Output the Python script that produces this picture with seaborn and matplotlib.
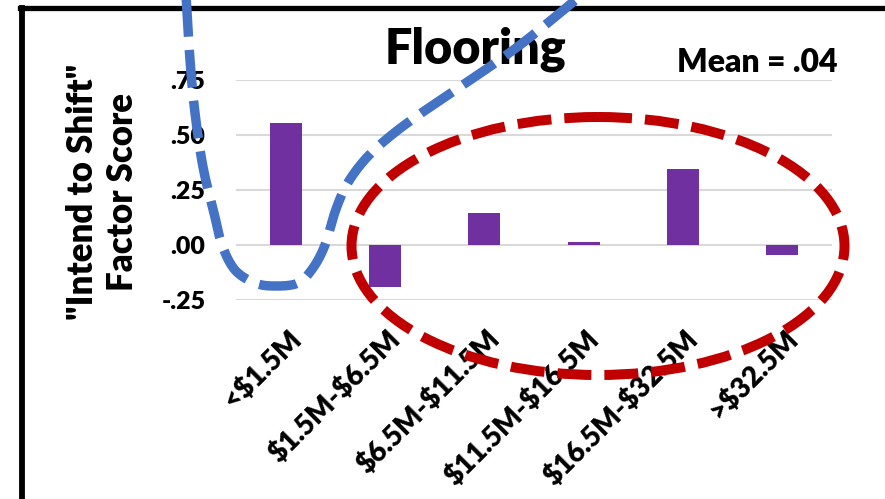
import numpy as np
import pandas as pd
import matplotlib
matplotlib.use("Agg")
import matplotlib.pyplot as plt
import matplotlib.transforms as mtransforms
from matplotlib.patches import Ellipse
import seaborn as sns

# ---------------- data ----------------
categories = ["<$1.5M", "$1.5M-$6.5M", "$6.5M-$11.5M", "$11.5M-$16.5M", "$16.5M-$32.5M", ">$32.5M"]
scores = [0.555, -0.19, 0.147, 0.012, 0.344, -0.047]
ytick_values = [-0.25, 0.0, 0.25, 0.50, 0.75]
ytick_labels = ["-.25", ".00", ".25", ".50", ".75"]
title_text = "Flooring"
mean_text = "Mean = .04"
ylabel_text = "\"Intend to Shift\"\nFactor Score"

# decorative hand-drawn annotation path (figure pixel coords, y downward)
blue_path_x = [186, 190, 195, 203, 214, 222, 235, 255, 275, 298, 313, 325, 335, 346, 362, 382, 410, 445, 485, 520, 555, 585]
blue_path_y = [-5, 60, 113, 167, 213, 245, 270, 283, 286, 283, 268, 245, 212, 186, 163, 143, 121, 97, 70, 45, 17, -8]

# ---------------- style ----------------
sns.set_theme(style="white")
plt.rcParams['font.family'] = ['Lato', 'DejaVu Sans']
plt.rcParams['text.parse_math'] = False
WEIGHT = "heavy"

W, H = 885, 499
fig = plt.figure(figsize=(W / 100, H / 100), dpi=100)
fig.patch.set_facecolor("white")

ax = fig.add_axes([236 / W, 1 - 300 / H, 596 / W, 220 / H])
df = pd.DataFrame({"category": categories, "score": scores})
sns.barplot(data=df, x="category", y="score", color="#7030A0", saturation=1,
            width=0.32, linewidth=0, ax=ax, zorder=3)

ax.set_xlim(-0.5, len(categories) - 0.5)
ax.set_ylim(-0.25, 0.75)
ax.set_yticks(ytick_values)
ax.set_yticklabels(ytick_labels, fontsize=18, fontweight=WEIGHT, color="black")
ax.tick_params(axis="y", length=0, pad=22)
ax.set_xticks(range(len(categories)))
ax.set_xticklabels([])
ax.tick_params(axis="x", length=0)
ax.set_xlabel("")
ax.set_axisbelow(True)
ax.yaxis.grid(True, color="#d9d9d9", linewidth=1.5)
ax.xaxis.grid(False)
for s in ax.spines.values():
    s.set_visible(False)

# rotated category labels
lab_trans = mtransforms.blended_transform_factory(ax.transData, ax.transAxes) + \
    mtransforms.ScaledTranslation(11 / 100, -35 / 100, fig.dpi_scale_trans)
for i, c in enumerate(categories):
    ax.text(i, 0, c, transform=lab_trans, rotation=45, rotation_mode="anchor",
            ha="right", va="center", fontsize=20, fontweight=WEIGHT, color="black")

ax.set_ylabel(ylabel_text, fontsize=25, fontweight=WEIGHT, color="black", linespacing=1.25)
ax.yaxis.set_label_coords((139 - 236) / 596, (300 - 192) / 220)

fig.text(476 / W, 1 - 63 / H, title_text, ha="center", va="baseline",
         fontsize=35, fontweight=WEIGHT, color="black")
fig.text(677 / W, 1 - 72 / H, mean_text, ha="left", va="baseline",
         fontsize=23, fontweight=WEIGHT, color="black")

# ---------------- overlay annotations ----------------
ov = fig.add_axes([0, 0, 1, 1], zorder=10)
ov.set_xlim(0, W)
ov.set_ylim(H, 0)
ov.axis("off")
ov.patch.set_alpha(0)

# frame
ov.plot([20, W + 5], [7.5, 7.5], color="black", lw=3.8, solid_capstyle="projecting")
ov.plot([22, 22], [7.5, H + 5], color="black", lw=4.2, solid_capstyle="projecting")

# red dashed ellipse
ell = Ellipse((598, 246), 493, 258, fill=False, edgecolor="#C00000", lw=7.2,
              linestyle=(0, (3.4, 1.3)))
ov.add_patch(ell)

# smooth blue dashed curve (Catmull-Rom through the traced points)
P = np.column_stack([blue_path_x, blue_path_y]).astype(float)
P = np.vstack([P[0], P, P[-1]])
pts = []
for k in range(1, len(P) - 2):
    p0, p1, p2, p3 = P[k - 1], P[k], P[k + 1], P[k + 2]
    for t in np.linspace(0, 1, 12, endpoint=False):
        t2, t3 = t * t, t * t * t
        pts.append(0.5 * ((2 * p1) + (-p0 + p2) * t + (2 * p0 - 5 * p1 + 4 * p2 - p3) * t2
                          + (-p0 + 3 * p1 - 3 * p2 + p3) * t3))
pts.append(P[-2])
pts = np.array(pts)
ov.plot(pts[:, 0], pts[:, 1], color="#4472C4", lw=6.8, linestyle=(0, (4.0, 1.4)),
        dash_capstyle="butt")

fig.savefig("out.png", dpi=100, facecolor="white")
